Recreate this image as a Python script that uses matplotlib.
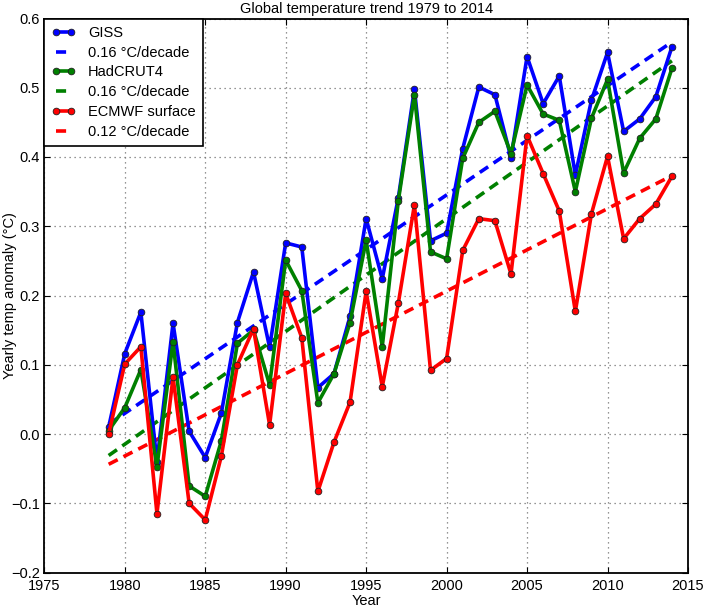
import numpy as np
import matplotlib
matplotlib.use("Agg")
import matplotlib.pyplot as plt

years = list(range(1979, 2015))

giss = [0.010, 0.116, 0.176, -0.040, 0.160, 0.004, -0.034, 0.030, 0.161, 0.234,
        0.125, 0.276, 0.270, 0.067, 0.087, 0.170, 0.311, 0.224, 0.341, 0.498,
        0.279, 0.290, 0.412, 0.501, 0.490, 0.399, 0.545, 0.477, 0.517, 0.374,
        0.482, 0.551, 0.437, 0.455, 0.487, 0.559]

hadcrut = [0.005, 0.038, 0.093, -0.047, 0.133, -0.075, -0.090, -0.010, 0.131, 0.150,
           0.071, 0.251, 0.207, 0.045, 0.087, 0.161, 0.280, 0.126, 0.337, 0.490,
           0.263, 0.253, 0.398, 0.450, 0.466, 0.405, 0.504, 0.462, 0.453, 0.350,
           0.456, 0.512, 0.377, 0.427, 0.455, 0.528]

ecmwf = [0.000, 0.101, 0.126, -0.115, 0.082, -0.100, -0.124, -0.032, 0.100, 0.152,
         0.013, 0.203, 0.139, -0.083, -0.012, 0.046, 0.206, 0.068, 0.189, 0.331,
         0.092, 0.109, 0.265, 0.311, 0.308, 0.231, 0.431, 0.376, 0.322, 0.177,
         0.318, 0.401, 0.282, 0.311, 0.332, 0.372]

series_names = ["GISS", "HadCRUT4", "ECMWF surface"]
trend_labels = ["0.16 \u00b0C/decade", "0.16 \u00b0C/decade", "0.12 \u00b0C/decade"]
colors = ["#0000ff", "#008000", "#ff0000"]

xticks = [1975, 1980, 1985, 1990, 1995, 2000, 2005, 2010, 2015]
yticks = [-0.2, -0.1, 0.0, 0.1, 0.2, 0.3, 0.4, 0.5, 0.6]

plt.rcParams['font.family'] = ['Liberation Sans', 'DejaVu Sans']
plt.rcParams['font.size'] = 10
plt.rcParams['axes.unicode_minus'] = True

fig = plt.figure(figsize=(7.05, 6.08), dpi=100)
ax = fig.add_axes([44.3 / 705, (608 - 572.5) / 608, (688 - 44.3) / 705, (572.5 - 18.5) / 608])

x = np.array(years, dtype=float)
for data, name, tl, c in zip([giss, hadcrut, ecmwf], series_names, trend_labels, colors):
    y = np.array(data)
    ax.plot(x, y, color=c, lw=2.6, marker='o', ms=4.8, mec='#202020', mew=0.6,
            label=name, zorder=3)
    p = np.polyfit(x, y, 1)
    ax.plot(x, np.polyval(p, x), color=c, lw=2.6, ls=(0, (2.8, 1.8)),
            label=tl, zorder=2)

ax.set_xlim(1975, 2015)
ax.set_ylim(-0.2, 0.6)
ax.set_xticks(xticks)
ax.set_yticks(yticks)
ax.set_yticklabels([("\u2212%.1f" % abs(v)) if v < 0 else ("%.1f" % v) for v in yticks])
ax.grid(True, color='0.45', ls=(0, (1, 3)), lw=0.9)
ax.tick_params(direction='in', top=True, right=True, length=4, width=0.8, labelsize=10.5)
ax.tick_params(axis='x', pad=4.5)
ax.tick_params(axis='y', pad=3)
for s in ax.spines.values():
    s.set_linewidth(1.3)

ax.set_title("Global temperature trend 1979 to 2014", fontsize=10.5, pad=4)
ax.set_xlabel("Year", fontsize=10.5, labelpad=1)
ax.set_ylabel("Yearly temp anomaly (\u00b0C)", fontsize=10.5)
ax.yaxis.set_label_coords(-0.043, 0.5)

leg = ax.legend(loc='upper left', borderaxespad=0, fancybox=False, numpoints=2,
                handlelength=1.6, handletextpad=0.9, fontsize=10.5, framealpha=1,
                edgecolor='black', borderpad=0.5, labelspacing=0.4)
leg.get_frame().set_linewidth(1.2)

fig.savefig("out.png", dpi=100)
